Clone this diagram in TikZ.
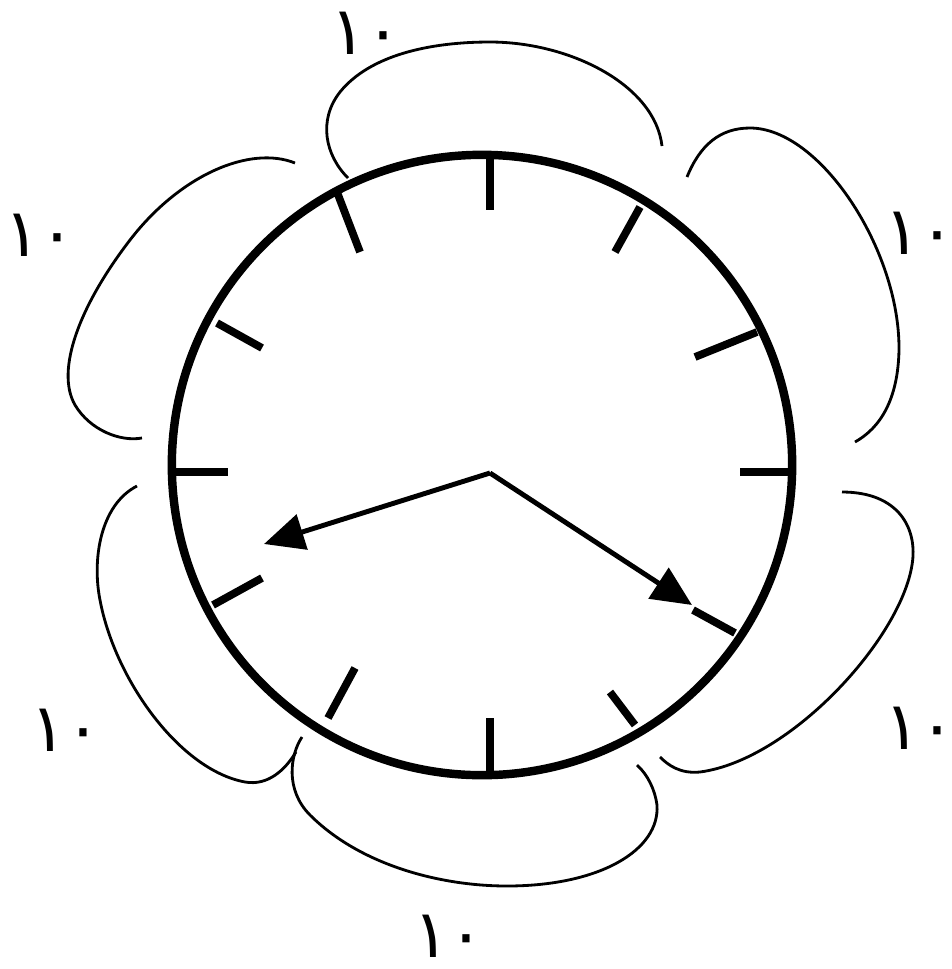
\documentclass[tikz,border=0pt]{standalone}
\usepackage{fontspec}
\newfontfamily\arabicfont[Script=Arabic]{DejaVu Sans}
\usepackage{tikz}
\usetikzlibrary{arrows.meta,shapes.geometric,positioning}

\begin{document}
\begin{tikzpicture}[x=0.01cm,y=-0.01cm,
    clockface/.style={draw,circle,line width=2.4pt,minimum size=6.2cm,inner sep=0pt},
    tickmark/.style={line width=2.2pt},
    hand/.style={line width=1.4pt,-{Triangle[length=0.4cm,width=0.36cm]}},
    petal/.style={line width=0.8pt},
    num/.style={font=\arabicfont\fontsize{19}{21}\selectfont,inner sep=1pt},
  ]
    \useasboundingbox (0,0) rectangle (952,969);
    % clock face and hour marks
    \node[clockface](face) at (482,465){};
    \foreach \xa/\ya/\xb/\yb in {490/158/490/210, 640/207/615/252, 757/332/695/357,
        790/472/740/472, 735/633/693/610, 635/725/610/692, 490/772/490/718,
        328/718/355/668, 213/605/262/578, 175/472/228/472, 217/323/262/348,
        337/192/360/252}
      \draw[tickmark](\xa,\ya)--(\xb,\yb);
    % hands
    \coordinate(hub) at (490,473);
    \coordinate(hourtip) at (264,544);
    \coordinate(mintip) at (692,605);
    \draw[hand](hub)--(hourtip);
    \draw[hand](hub)--(mintip);
    % petals round the clock
    \draw[petal] (348,178) .. controls (325,155) and (318,120) .. (340,92)
      .. controls (370,55) and (430,42) .. (490,42)
      .. controls (570,42) and (655,85) .. (662,146);
    \draw[petal] (687,177) .. controls (700,145) and (720,128) .. (750,128)
      .. controls (820,128) and (900,250) .. (899,350)
      .. controls (898,400) and (880,428) .. (855,442);
    \draw[petal] (842,492) .. controls (900,492) and (918,530) .. (912,565)
      .. controls (900,640) and (790,760) .. (700,772)
      .. controls (680,774) and (668,765) .. (660,757);
    \draw[petal] (302,737) .. controls (290,755) and (285,790) .. (310,815)
      .. controls (360,865) and (440,886) .. (507,886)
      .. controls (600,886) and (660,850) .. (657,805)
      .. controls (655,790) and (648,775) .. (637,765);
    \draw[petal] (137,486) .. controls (100,505) and (92,560) .. (100,600)
      .. controls (115,680) and (180,770) .. (245,782)
      .. controls (268,786) and (285,770) .. (296,752);
    \draw[petal] (295,163) .. controls (250,145) and (180,175) .. (130,240)
      .. controls (80,305) and (55,370) .. (75,405)
      .. controls (90,430) and (120,442) .. (142,438);
    % labels
    \node[num](ntop) at (366,33){١٠};
    \node[num](nul) at (40,235){١٠};
    \node[num](nur) at (920,233){١٠};
    \node[num](nll) at (66,730){١٠};
    \node[num](nlr) at (920,728){١٠};
    \node[num](nbot) at (449,936){١٠};
\end{tikzpicture}
\end{document}
